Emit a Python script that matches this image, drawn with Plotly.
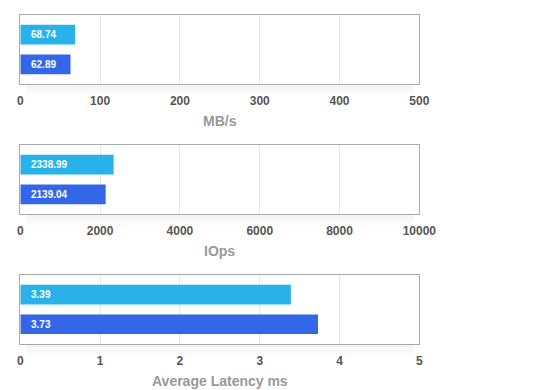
import plotly.graph_objects as go

series_names = ["Run A", "Run B"]
colors = ["#29b1e9", "#3466e8"]
mbps = [68.74, 62.89]
iops = [2338.99, 2139.04]
latency = [3.39, 3.73]
axis_titles = ["MB/s", "IOps", "Average Latency ms"]
x_ranges = [[0, 500], [0, 10000], [0, 5]]
x_dticks = [100, 2000, 1]
panels = [mbps, iops, latency]

W, H = 560, 390
domains = [[0.8051, 0.9821], [0.4718, 0.6487], [0.1385, 0.3154]]
x_domain = [0.0220, 0.7345]
FONT = "Liberation Sans, Arial, Helvetica, sans-serif"

fig = go.Figure()
for i, vals in enumerate(panels):
    xa = "x" if i == 0 else f"x{i+1}"
    ya = "y" if i == 0 else f"y{i+1}"
    fig.add_trace(go.Bar(
        x=vals, y=series_names, orientation="h",
        marker=dict(color=colors, line=dict(width=0)),
        xaxis=xa, yaxis=ya, showlegend=False, hoverinfo="skip",
    ))
    for name, v in zip(series_names, vals):
        fig.add_annotation(
            x=0, y=name, xref=xa, yref=ya, text=f"<b>{v:.2f}</b>",
            showarrow=False, xanchor="left", xshift=9,
            font=dict(family=FONT, size=10, color="white"),
        )
    fig.add_annotation(
        x=(x_domain[0] + x_domain[1]) / 2, y=domains[i][0], xref="paper", yref="paper",
        text=f"<b>{axis_titles[i]}</b>", showarrow=False, yanchor="middle", yshift=-37,
        font=dict(family=FONT, size=14, color="#999999"),
    )
    # soft shadow below the plot frame
    for k in range(6):
        y1 = domains[i][0] - (k * 2) / H
        y0 = y1 - 2 / H
        fig.add_shape(
            type="rect", xref="paper", yref="paper", layer="below",
            x0=x_domain[0] + 0.01, x1=x_domain[1] - 0.01, y0=y0, y1=y1,
            fillcolor=f"rgba(0,0,0,{0.045 - k * 0.007:.3f})", line=dict(width=0),
        )
    fig.layout[("xaxis" if i == 0 else f"xaxis{i+1}")] = dict(
        domain=x_domain, anchor=ya, range=x_ranges[i], dtick=x_dticks[i], tick0=0,
        tickformat="d", automargin=False,
        showgrid=True, gridcolor="#e6e6e6", gridwidth=1,
        showline=True, linecolor="#aaaaaa", linewidth=1, mirror=True,
        zeroline=False, ticks="outside", ticklen=6, tickcolor="rgba(0,0,0,0)",
        tickfont=dict(family=FONT, size=12, color="#555555", weight="bold"),
        fixedrange=True,
    )
    fig.layout[("yaxis" if i == 0 else f"yaxis{i+1}")] = dict(
        domain=domains[i], anchor=xa, type="category", automargin=False,
        range=[1.667, -0.667], showticklabels=False, showgrid=False,
        showline=True, linecolor="#aaaaaa", linewidth=1, mirror=True,
        zeroline=False, ticks="", fixedrange=True,
    )

fig.update_layout(
    width=W, height=H, margin=dict(l=0, r=0, t=0, b=0, autoexpand=False),
    paper_bgcolor="white", plot_bgcolor="rgba(0,0,0,0)",
    bargap=0.333,
)
fig.write_html("out.html")
